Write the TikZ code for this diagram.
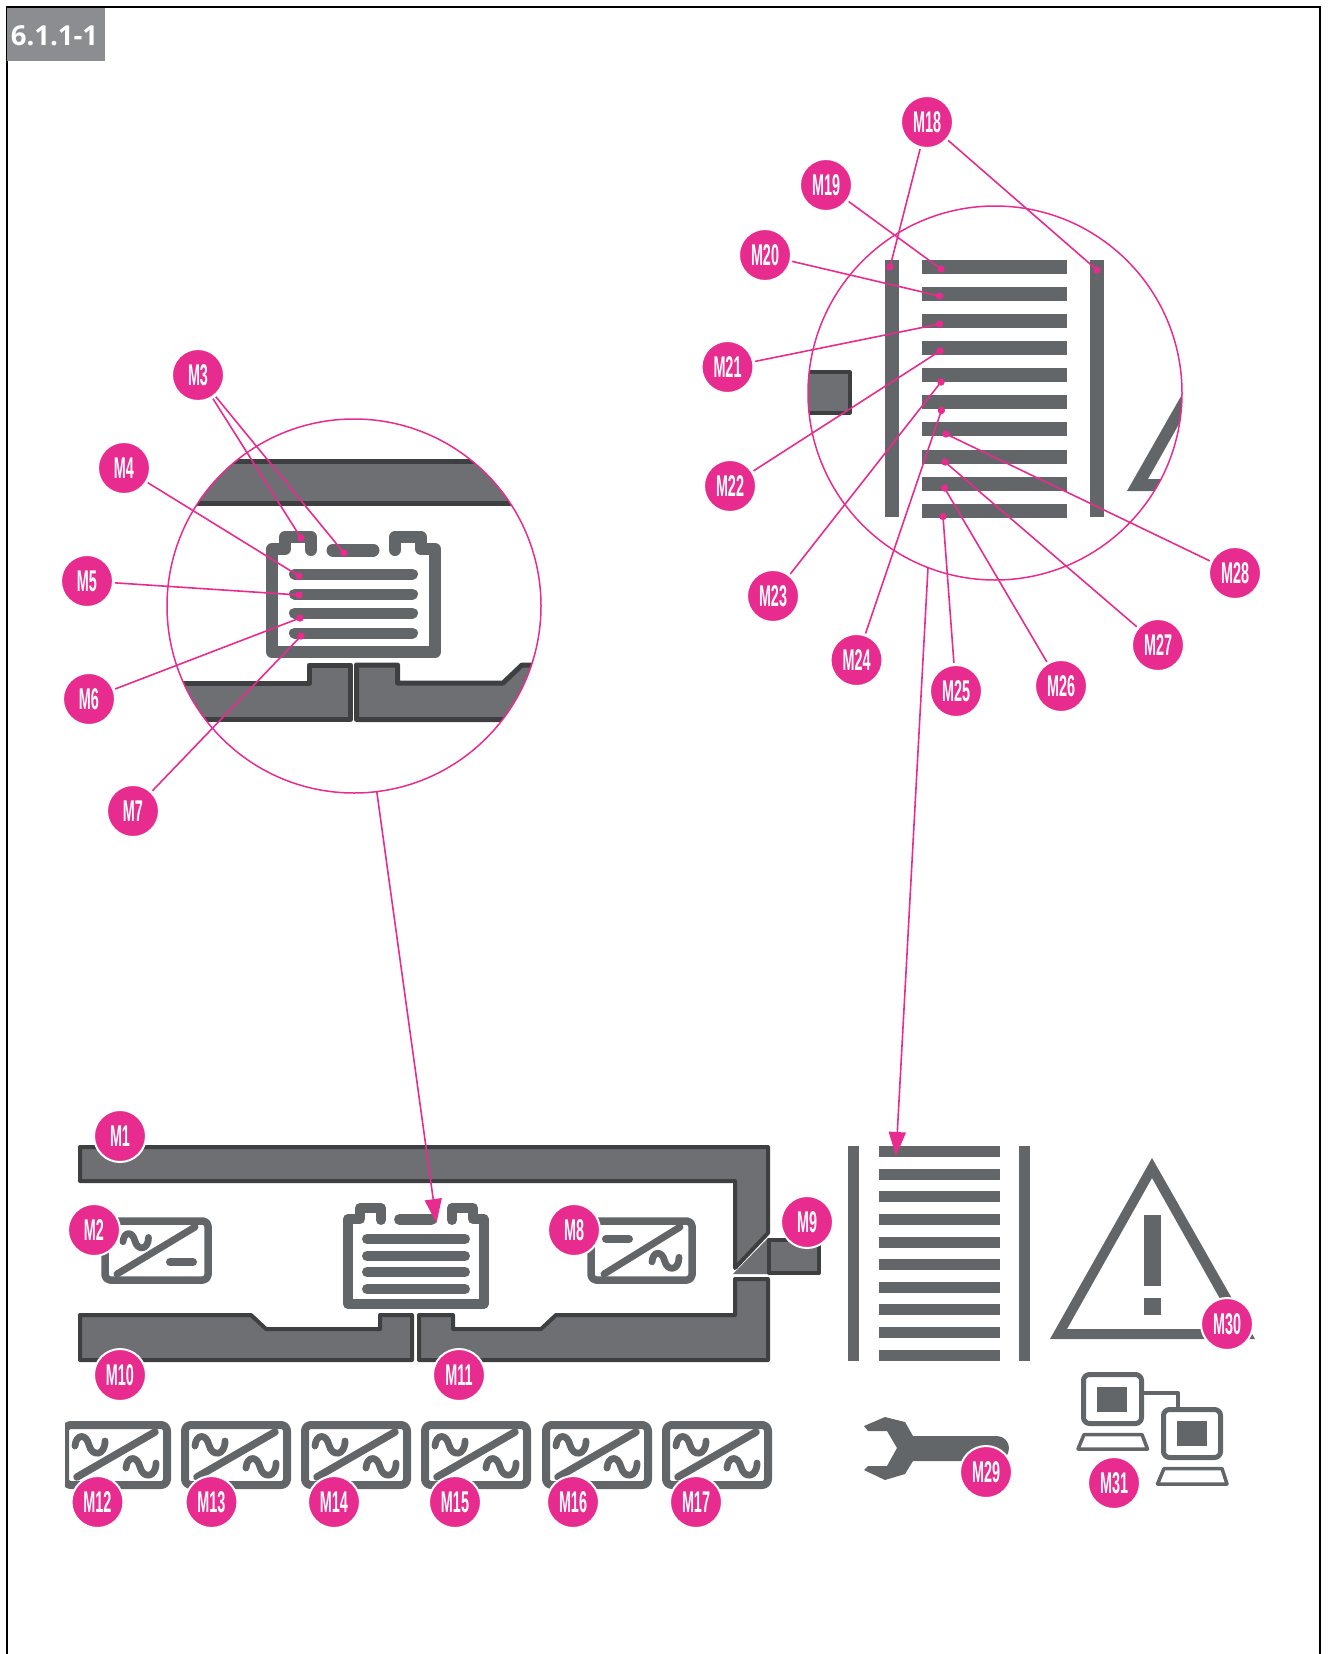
\documentclass[tikz,border=0pt]{standalone}
\usepackage{fontspec}
\usepackage{graphicx}
\setmainfont{Liberation Sans}
\newfontfamily\tagfont{Open Sans}
\usetikzlibrary{arrows.meta}
\definecolor{pinkc}{HTML}{E82B8F}
\definecolor{iconc}{HTML}{636668}
\definecolor{barc}{HTML}{6D6F72}
\definecolor{darkc}{HTML}{3E3F41}
\definecolor{tagc}{HTML}{8B8D90}
\newcommand\mlab[1]{\scalebox{0.48}[1]{#1}}
\tikzset{
  badge/.style={circle,draw=white,line width=2pt,fill=pinkc,text=white,minimum size=52pt,inner sep=0pt,outer sep=2pt,font=\fontsize{30}{30}\selectfont\bfseries},
  leader/.style={draw=pinkc,line width=1.6pt},
  dotn/.style={circle,fill=pinkc,inner sep=0pt,minimum size=7.4pt},
  zoomring/.style={circle,draw=pinkc,line width=1.5pt,inner sep=0pt,outer sep=0pt,minimum size=374pt},
  barshape/.style={fill=barc,draw=darkc,line width=4pt,line join=round},
  barbig/.style={fill=barc,draw=darkc,line width=5pt,line join=round},
  iconline/.style={draw=iconc,line cap=round,line join=round},
  arrowline/.style={draw=pinkc,line width=1.6pt,-{Triangle[length=24pt,width=17pt]}},
  pics/sinew/.style={code={\draw[iconline,line width=6.8pt] (0,2) .. controls (1,-10) and (11,-11) .. (14,1) .. controls (17,13) and (30,12) .. (30,-3);}},
}
\begin{document}
\begin{tikzpicture}[x=1pt,y=-1pt]
\useasboundingbox (0,0) rectangle (1329,1654);
\draw[black,line width=2pt] (6.5,1654) -- (6.5,7) -- (1320,7) -- (1320,1654);
\fill[tagc] (7,8) rectangle (105,61);
\node[text=white,inner sep=0pt,font=\fontsize{27.5}{28}\selectfont\tagfont\bfseries] (tag) at (54.5,36) {6.1.1-1};

% ---- main unit
\path[barshape] (80,1147) -- (768,1147) -- (768,1233) -- (735,1268) -- (735,1181) -- (80,1181) -- cycle;
\path[barshape] (80,1315) -- (251,1315) -- (266,1329) -- (380,1329) -- (380,1315) -- (412,1315) -- (412,1360) -- (80,1360) -- cycle;
\path[barshape] (735,1279) -- (768,1279) -- (768,1360) -- (419,1360) -- (419,1315) -- (453,1315) -- (453,1329) -- (541,1329) -- (556,1315) -- (735,1315) -- cycle;
\fill[barc] (733,1274) -- (768,1238) -- (772,1238) -- (772,1274) -- cycle;
\draw[barshape] (769,1240) rectangle (819,1273);

% battery
\draw[iconline,line width=10pt] (381,1220) -- (381,1208) -- (360,1208) -- (360,1219) -- (348,1219) -- (348,1304) -- (483.5,1304) -- (483.5,1219) -- (473,1219) -- (473,1208) -- (452,1208) -- (452,1220);
\draw[iconline,line width=11pt] (399.5,1219.5) -- (431.5,1219.5);
\foreach \yy in {1239,1256,1272,1289}{\draw[iconline,line width=10pt] (367,\yy) -- (465,\yy);}

% inverters in unit
\draw[iconline,line width=7.5pt,rounded corners=5pt] (105,1221) rectangle (208,1280);
\draw[iconline,line width=7pt] (117,1274) -- (195,1227);
\pic[scale=0.85] at (123,1240) {sinew};
\draw[iconline,line width=8pt] (170,1262) -- (193,1262);
\draw[iconline,line width=7.5pt,rounded corners=5pt] (591,1221) rectangle (692,1280);
\draw[iconline,line width=7pt] (604,1274) -- (680,1227);
\draw[iconline,line width=8pt] (606,1239) -- (629,1239);
\pic[scale=0.9] at (652,1260) {sinew};

% row of inverters
\begin{scope}
\clip (65,1410) rectangle (790,1500);
\foreach \xx in {61,181,301,421,542,662}{
  \draw[iconline,line width=8pt,rounded corners=6pt] (\xx+4,1425) rectangle (\xx+106,1485);
  \draw[iconline,line width=7.5pt] (\xx+16,1477) -- (\xx+94,1432);
  \pic at (\xx+14,1444) {sinew};
  \pic at (\xx+65,1466) {sinew};
}
\end{scope}

% ladder
\fill[iconc] (848,1146) rectangle (859,1361);
\fill[iconc] (1019,1146) rectangle (1030,1361);
\foreach \yy in {1146,1169,1191,1214,1237,1259,1282,1304,1327,1350}{\fill[iconc] (879,\yy) rectangle (1000,\yy+11);}

% warning triangle
\fill[iconc,even odd rule] (1050,1339) -- (1255,1339) -- (1152,1158) -- cycle (1067,1329) -- (1237,1329) -- (1152,1178) -- cycle;
\fill[iconc] (1144,1215) rectangle (1161,1286);
\fill[iconc] (1144,1298) rectangle (1161,1315);

% wrench
\fill[iconc] (864,1426) -- (885,1417) -- (905,1422) -- (913,1436) -- (997,1436) .. controls (1004,1436) and (1009,1442) .. (1009,1448) .. controls (1009,1455) and (1004,1461) .. (997,1461) -- (913,1461) -- (905,1474) -- (885,1480) -- (864,1470) -- (868,1466) -- (887,1466) -- (897,1448) -- (887,1431) -- (868,1431) -- cycle;

% computers
\draw[iconline,line width=5pt,rounded corners=6pt] (1083.5,1374.5) rectangle (1141.5,1423.5);
\fill[iconc] (1097,1387) rectangle (1127,1412);
\draw[iconline,line width=3.5pt] (1084,1434.5) -- (1142,1434.5) -- (1147.5,1449) -- (1078,1449) -- cycle;
\draw[iconline,line width=5pt,rounded corners=6pt] (1163.5,1409.5) rectangle (1220.5,1457.5);
\fill[iconc] (1177,1421) rectangle (1207,1446);
\draw[iconline,line width=3.5pt] (1164,1468.5) -- (1222,1468.5) -- (1227,1484) -- (1157.5,1484) -- cycle;
\draw[draw=iconc,line width=4pt,line join=round] (1144,1393) -- (1178,1393) -- (1178,1407);

% ---- left zoom circle contents
\begin{scope}
\clip (354,606) circle (187);
\path[barbig] (100,461.5) rectangle (600,503.5);
\path[barbig] (100,683) -- (309,683) -- (309,665) -- (350.5,665) -- (350.5,719.5) -- (100,719.5) -- cycle;
\path[barbig] (356.5,665) -- (397.5,665) -- (397.5,683) -- (503,683) -- (522,665) -- (600,665) -- (600,719.5) -- (356.5,719.5) -- cycle;
\end{scope}
\draw[iconline,line width=12pt] (311,550) -- (311,537) -- (285,537) -- (285,549) -- (272,549) -- (272,652) -- (435,652) -- (435,549) -- (421,549) -- (421,537) -- (395,537) -- (395,550);
\draw[iconline,line width=13pt] (333,550) -- (373,550);
\foreach \yy in {574,594,613,633}{\draw[iconline,line width=11pt] (294.5,\yy) -- (412.5,\yy);}

% ---- right zoom circle contents
\begin{scope}
\clip (995,393) circle (187);
\draw[barshape] (790,372) rectangle (849.5,412.5);
\fill[iconc,even odd rule] (1127,491) -- (1373,491) -- (1250.6,274) -- cycle (1148,479) -- (1352,479) -- (1250,298) -- cycle;
\end{scope}
\fill[iconc] (885,260) rectangle (898.6,517);
\fill[iconc] (1090,260) rectangle (1103.6,517);
\foreach \yy in {260,287,314,341,368,395,422,450,477,504}{\fill[iconc] (922,\yy) rectangle (1067,\yy+14);}

% rings
\node[zoomring] (zoomA) at (354,606) {};
\node[zoomring] (zoomB) at (995,393) {};

% arrow targets
\coordinate (tipA) at (436.5,1223);
\coordinate (tipB) at (896,1156);
\draw[arrowline] (zoomA.277.4) -- (tipA);
\draw[arrowline] (zoomB.249) -- (tipB);

% ---- badges
\foreach \nm/\lb/\xx/\yy in {m1/M1/120/1136,m2/M2/94/1230,m3/M3/198/375,m4/M4/124/468,m5/M5/87/581,m6/M6/89/699,m7/M7/133/811,m8/M8/574/1230,m9/M9/807/1222,m10/M10/120/1375,m11/M11/459/1375,m12/M12/97.5/1502,m13/M13/211.5/1502,m14/M14/334/1502,m15/M15/455/1502,m16/M16/573/1502,m17/M17/696/1502,m18/M18/927/122,m19/M19/826/185,m20/M20/765/255,m21/M21/727.5/367,m22/M22/730/486,m23/M23/773/596,m24/M24/856.5/660,m25/M25/956/691,m26/M26/1061/686,m27/M27/1158/645,m28/M28/1235/573,m29/M29/986/1472,m30/M30/1227/1324,m31/M31/1114/1483}{
  \node[badge] (\nm) at (\xx,\yy) {\mlab{\lb}};
}

% ---- leader ends
\foreach \nm/\xx/\yy in {d3a/301/538,d3b/344/553,d4/299/576,d5/299/595,d6/300/618,d7/301/636,d18a/890/267,d18b/1097/270,d19/941/269,d20/939.5/296,d21/939.5/324,d22/940/351,d23/941/382,d24/941.4/410.5,d25/943/516.5,d26/944.5/488,d27/945/462,d28/946/434}{
  \node[dotn] (\nm) at (\xx,\yy) {};
}
\draw[leader] (m3) -- (d3a.center);
\draw[leader] (m3) -- (d3b.center);
\draw[leader] (m4) -- (d4.center);
\draw[leader] (m5) -- (d5.center);
\draw[leader] (m6) -- (d6.center);
\draw[leader] (m7) -- (d7.center);
\draw[leader] (m18) -- (d18a.center);
\draw[leader] (m18) -- (d18b.center);
\draw[leader] (m19) -- (d19.center);
\draw[leader] (m20) -- (d20.center);
\draw[leader] (m21) -- (d21.center);
\draw[leader] (m22) -- (d22.center);
\draw[leader] (m23) -- (d23.center);
\draw[leader] (m24) -- (d24.center);
\draw[leader] (m25) -- (d25.center);
\draw[leader] (m26) -- (d26.center);
\draw[leader] (m27) -- (d27.center);
\draw[leader] (m28) -- (d28.center);
\end{tikzpicture}
\end{document}
